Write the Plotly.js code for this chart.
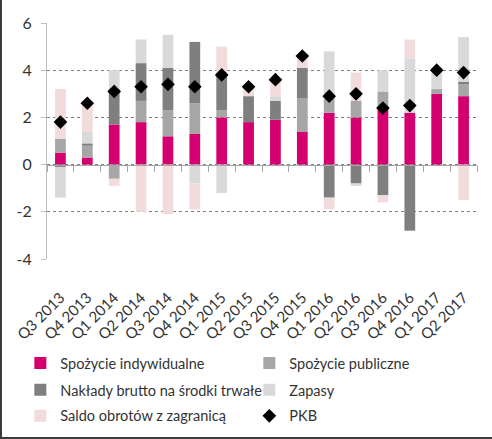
<!DOCTYPE html>
<html>
<head>
<meta charset="utf-8">
<script src="https://cdn.plot.ly/plotly-3.0.1.min.js"></script>
<style>
  html, body { margin: 0; padding: 0; background: #ffffff; }
  #frame { width: 490px; height: 437px; border-left: 2px solid #3c3c3c; border-bottom: 2px solid #3c3c3c; }
  #chart { width: 490px; height: 437px; }
</style>
</head>
<body>
<div id="frame"><div id="chart"></div></div>
<script>
const quarters = ["Q3 2013","Q4 2013","Q1 2014","Q2 2014","Q3 2014","Q4 2014","Q1 2015","Q2 2015",
                  "Q3 2015","Q4 2015","Q1 2016","Q2 2016","Q3 2016","Q4 2016","Q1 2017","Q2 2017"];
const spozycieIndywidualne = [0.5, 0.3, 1.7, 1.8, 1.2, 1.3, 2.0, 1.8, 1.9, 1.4, 2.2, 2.0, 2.4, 2.2, 3.0, 2.9];
const spozyciePubliczne    = [0.6, 0.5, -0.6, 0.9, 1.1, 1.3, 0.3, 0.0, 0.0, 1.4, 0.6, 0.7, 0.7, 0.0, 0.2, 0.5];
const naklady              = [-0.1, 0.1, 1.5, 1.6, 1.8, 2.6, 1.6, 1.1, 0.8, 1.3, -1.4, -0.8, -1.3, -2.8, 0.0, 0.1];
const zapasy               = [-1.3, 0.5, 0.8, 1.0, 1.4, -0.8, -1.2, 0.0, 0.2, 0.0, 2.0, -0.1, 0.9, 2.3, 0.8, 1.9];
const saldo                = [2.1, 1.2, -0.3, -2.0, -2.1, -1.1, 1.1, 0.4, 0.7, 0.5, -0.5, 1.2, -0.3, 0.8, 0.0, -1.5];
const pkb                  = [1.8, 2.6, 3.1, 3.3, 3.4, 3.3, 3.8, 3.3, 3.6, 4.6, 2.9, 3.0, 2.4, 2.5, 4.0, 3.9];
const yTicks = [-4, -2, 0, 2, 4, 6];

const FONT = "Lato, 'Open Sans', sans-serif";
const FS = 15;

function bar(name, values, color, legendId) {
  return { type: 'bar', name: name, x: quarters, y: values, marker: { color: color, line: { width: 0 } },
           xaxis: 'x', yaxis: 'y', legend: legendId, hoverinfo: 'x+y+name' };
}

const data = [
  bar('Spożycie indywidualne', spozycieIndywidualne, '#d5006f', 'legend'),
  bar('Spożycie publiczne', spozyciePubliczne, '#a6a6a6', 'legend'),
  bar('Nakłady brutto na środki trwałe', naklady, '#7f7f7f', 'legend2'),
  bar('Zapasy', zapasy, '#d9d9d9', 'legend2'),
  bar('Saldo obrotów z zagranicą', saldo, '#f2dcdb', 'legend3'),
  { type: 'scatter', mode: 'markers', name: 'PKB', x: quarters, y: pkb, xaxis: 'x2', yaxis: 'y',
    legend: 'legend3', marker: { symbol: 'diamond', color: '#000000', size: 10.5 } }
];

function legendRow(y) {
  return {
    orientation: 'h', x: -0.062, xanchor: 'left', y: y, yanchor: 'top',
    entrywidth: 184, entrywidthmode: 'pixels', traceorder: 'normal',
    font: { family: FONT, size: 14.5, color: '#333333' }, itemwidth: 30,
    bgcolor: 'rgba(0,0,0,0)'
  };
}

const layout = {
  width: 490, height: 437,
  margin: { l: 45, r: 15, t: 23, b: 178, autoexpand: false },
  paper_bgcolor: '#ffffff', plot_bgcolor: '#ffffff',
  font: { family: FONT, size: FS, color: '#333333' },
  barmode: 'relative', bargap: 0.6,
  showlegend: true,
  legend: legendRow(-0.373),
  legend2: legendRow(-0.487),
  legend3: legendRow(-0.597),
  xaxis: {
    type: 'category', categoryorder: 'array', categoryarray: quarters,
    range: [-0.5, 15.5], showline: false, showgrid: false, zeroline: false,
    ticks: '', tickangle: -45, ticklabelstandoff: 26, automargin: false,
    tickfont: { family: FONT, size: FS, color: '#333333' }
  },
  xaxis2: {
    type: 'category', categoryorder: 'array', categoryarray: quarters,
    overlaying: 'x', anchor: 'free', position: 0.4, range: [-0.5, 15.5],
    showline: true, linecolor: '#a6a6a6', linewidth: 1,
    ticks: 'outside', tickson: 'boundaries', ticklen: 6, tickcolor: '#a6a6a6', tickwidth: 1,
    showticklabels: false, showgrid: false, zeroline: false, automargin: false
  },
  yaxis: {
    range: [-4, 6], tickvals: yTicks, ticktext: yTicks.map(String),
    showline: true, linecolor: '#bfbfbf', linewidth: 1,
    ticks: 'outside', ticklen: 5, tickcolor: '#bfbfbf',
    showgrid: true, gridcolor: '#7f7f7f', gridwidth: 1, griddash: '3px,3px',
    zeroline: false, ticklabelstandoff: 6, automargin: false,
    tickfont: { family: FONT, size: 16, color: '#333333' }
  }
};

Plotly.newPlot('chart', data, layout, { displayModeBar: false, staticPlot: true });
</script>
</body>
</html>
